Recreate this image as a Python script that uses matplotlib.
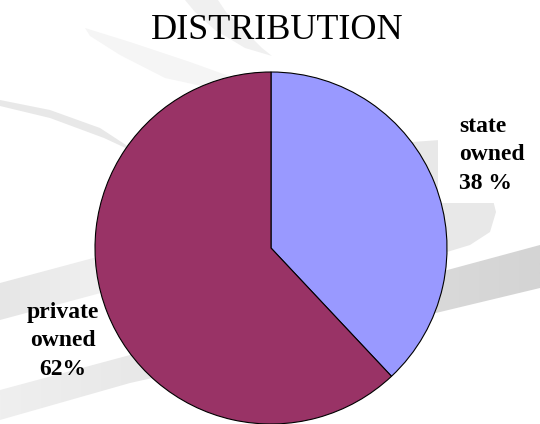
import numpy as np
import matplotlib
matplotlib.use("Agg")
import matplotlib.pyplot as plt
from matplotlib.patches import Polygon, Rectangle

# Ownership distribution
categories = ["state owned", "private owned"]
shares = [38, 62]
label_texts = ["state\nowned\n38 %", "private\nowned\n62%"]
slice_colors = ["#9999FF", "#993366"]
title = "DISTRIBUTION"

W, H = 540, 424
fig = plt.figure(figsize=(W / 100, H / 100), dpi=100)
fig.patch.set_facecolor("white")

# Backdrop layer in pixel coordinates (y grows downward)
bg = fig.add_axes([0, 0, 1, 1])
bg.set_xlim(0, W)
bg.set_ylim(H, 0)
bg.axis("off")


def gradient_band(ax, pts, c_left, c_right, x0, x1):
    poly = Polygon(pts, closed=True, facecolor="none", edgecolor="none")
    ax.add_patch(poly)
    grad = np.linspace(0, 1, 256)[None, :]
    cl = np.array(matplotlib.colors.to_rgb(c_left))
    cr = np.array(matplotlib.colors.to_rgb(c_right))
    img = cl[None, None, :] * (1 - grad[..., None]) + cr[None, None, :] * grad[..., None]
    ys = [p[1] for p in pts]
    im = ax.imshow(img, extent=[x0, x1, max(ys), min(ys)], aspect="auto",
                   zorder=1, interpolation="bilinear")
    im.set_clip_path(poly)


# decorative swooshes
bg.add_patch(Polygon([(0, 100), (50, 110), (100, 128), (126, 145), (132, 151),
                      (104, 138), (50, 118), (0, 106)],
                     facecolor="#e8e8e8", edgecolor="none", zorder=1))
bg.add_patch(Polygon([(85, 28), (130, 42), (190, 62), (240, 80), (268, 90),
                      (268, 96), (220, 90), (165, 78), (120, 55), (90, 36)],
                     facecolor="#f5f5f5", edgecolor="none", zorder=1))
bg.add_patch(Polygon([(185, 0), (218, 0), (226, 12), (244, 30), (262, 48),
                      (272, 56), (245, 48), (215, 30), (195, 12)],
                     facecolor="#f0f0f0", edgecolor="none", zorder=1))
bg.add_patch(Polygon([(400, 155), (412, 142), (440, 140), (470, 160), (490, 188),
                      (496, 212), (490, 232), (470, 245), (447, 252), (430, 240)],
                     facecolor="#e8e8e8", edgecolor="none", zorder=1))
gradient_band(bg, [(0, 390), (130, 355), (300, 313), (440, 272), (540, 245),
                   (540, 288), (440, 312), (300, 345), (130, 383), (0, 420)],
              "#efefef", "#d4d4d4", 0, 540)
gradient_band(bg, [(0, 283), (97, 257), (160, 243), (160, 276), (97, 294), (0, 320)],
              "#e6e6e6", "#f6f6f6", 0, 160)

# white panel behind the right-hand label
bg.add_patch(Rectangle((438, 100), 102, 103, facecolor="white",
                       edgecolor="none", zorder=2))

bg.text(277, 39, title, ha="center", va="baseline", fontsize=26,
        family="Liberation Serif", color="black", zorder=3)

label_font = dict(fontsize=17, family="Liberation Serif", fontweight="bold",
                  color="black", zorder=3, linespacing=1.45)
bg.text(459, 155, label_texts[0], ha="left", va="center", multialignment="left",
        **label_font)
bg.text(63, 341, label_texts[1], ha="center", va="center", multialignment="center",
        **label_font)

# Pie
cx, cy, r = 271, 248, 176
ax = fig.add_axes([(cx - r) / W, (H - cy - r) / H, 2 * r / W, 2 * r / H])
wedges, _ = ax.pie(shares, colors=slice_colors, startangle=90, counterclock=False,
                   wedgeprops=dict(edgecolor="black", linewidth=0.8))
for w in wedges:
    w.set_clip_on(False)
ax.set_xlim(-1, 1)
ax.set_ylim(-1, 1)
ax.set_aspect("equal")
ax.axis("off")

fig.savefig("out.png", dpi=100, facecolor="white")
